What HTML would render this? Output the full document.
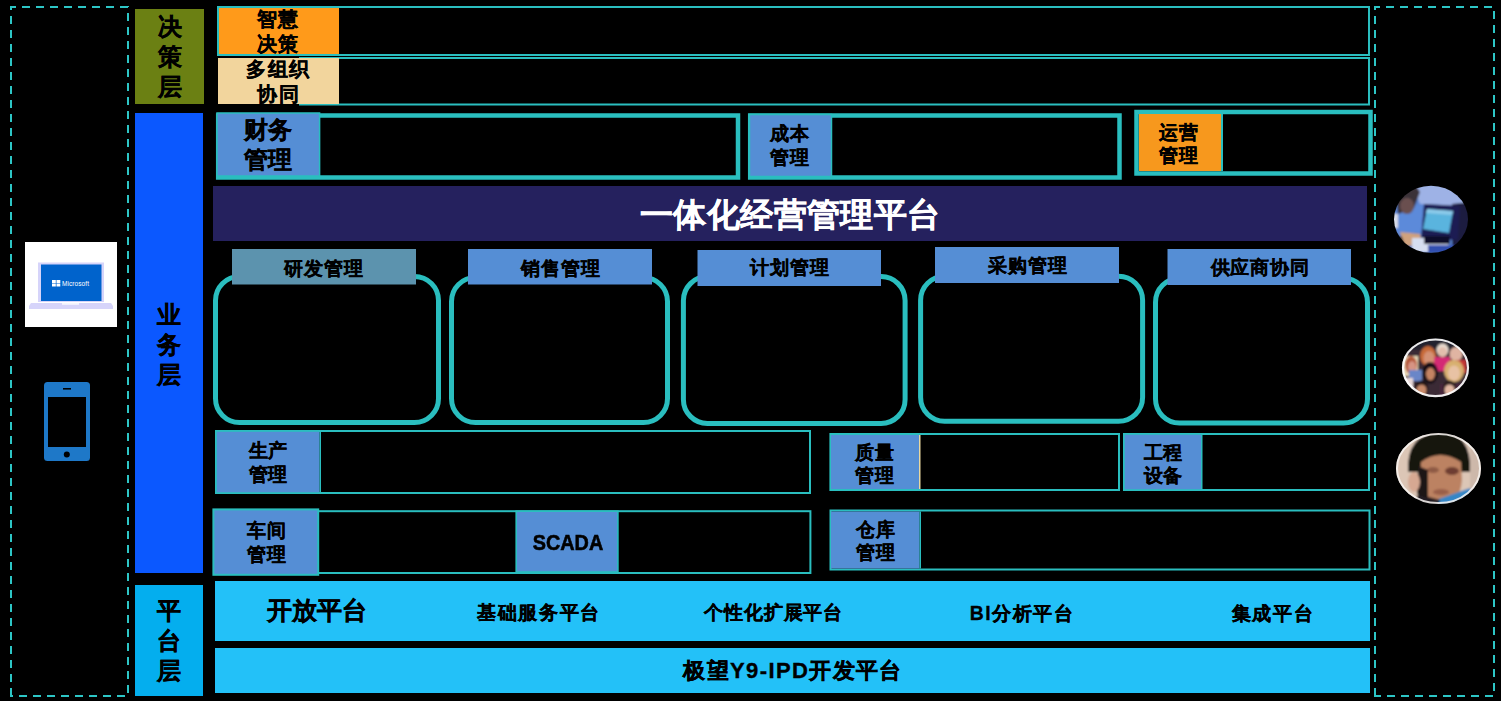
<!DOCTYPE html>
<html><head><meta charset="utf-8">
<style>
html,body{margin:0;padding:0;background:#000;width:1501px;height:701px;overflow:hidden;}
body{position:relative;font-family:"Liberation Sans",sans-serif;font-weight:bold;color:#000;}
svg{position:absolute;left:0;top:0;}
.t{position:absolute;display:flex;align-items:center;justify-content:center;text-align:center;white-space:nowrap;}
.v{flex-direction:column;}
.b{-webkit-text-stroke:0.35px currentColor;}
</style></head><body>
<svg width="1501" height="701" viewBox="0 0 1501 701">
<defs>
<filter id="bl" x="-10%" y="-10%" width="120%" height="120%"><feGaussianBlur stdDeviation="0.9"/></filter>
<clipPath id="c1"><ellipse cx="1431" cy="219.2" rx="37" ry="33.5"/></clipPath>
<clipPath id="c2"><ellipse cx="1435.5" cy="367.8" rx="33.5" ry="29.3"/></clipPath>
<clipPath id="c3"><ellipse cx="1438.5" cy="468.5" rx="42.5" ry="35.5"/></clipPath>
</defs>
<!-- dashed outer boxes -->
<path d="M10 7H16M22 7H30M36 7H44M50 7H58M64 7H72M78 7H86M92 7H100M106 7H114M120 7H128M10 696H13M19 696H27M33 696H41M47 696H55M61 696H69M75 696H83M89 696H97M103 696H111M117 696H125M11 6V10M11 16V24M11 30V38M11 44V52M11 58V66M11 72V80M11 86V94M11 100V108M11 114V122M11 128V136M11 142V150M11 156V164M11 170V178M11 184V192M11 198V206M11 212V220M11 226V234M11 240V248M11 254V262M11 268V276M11 282V290M11 296V304M11 310V318M11 324V332M11 338V346M11 352V360M11 366V374M11 380V388M11 394V402M11 408V416M11 422V430M11 436V444M11 450V458M11 464V472M11 478V486M11 492V500M11 506V514M11 520V528M11 534V542M11 548V556M11 562V570M11 576V584M11 590V598M11 604V612M11 618V626M11 632V640M11 646V654M11 660V668M11 674V682M11 688V696M128 6V7M128 13V21M128 27V35M128 41V49M128 55V63M128 69V77M128 83V91M128 97V105M128 111V119M128 125V133M128 139V147M128 153V161M128 167V175M128 181V189M128 195V203M128 209V217M128 223V231M128 237V245M128 251V259M128 265V273M128 279V287M128 293V301M128 307V315M128 321V329M128 335V343M128 349V357M128 363V371M128 377V385M128 391V399M128 405V413M128 419V427M128 433V441M128 447V455M128 461V469M128 475V483M128 489V497M128 503V511M128 517V525M128 531V539M128 545V553M128 559V567M128 573V581M128 587V595M128 601V609M128 615V623M128 629V637M128 643V651M128 657V665M128 671V679M128 685V693M1374 7H1380M1386 7H1394M1400 7H1408M1414 7H1422M1428 7H1436M1442 7H1450M1456 7H1464M1470 7H1478M1484 7H1492M1374 696H1381M1387 696H1395M1401 696H1409M1415 696H1423M1429 696H1437M1443 696H1451M1457 696H1465M1471 696H1479M1485 696H1493M1375 6V10M1375 16V24M1375 30V38M1375 44V52M1375 58V66M1375 72V80M1375 86V94M1375 100V108M1375 114V122M1375 128V136M1375 142V150M1375 156V164M1375 170V178M1375 184V192M1375 198V206M1375 212V220M1375 226V234M1375 240V248M1375 254V262M1375 268V276M1375 282V290M1375 296V304M1375 310V318M1375 324V332M1375 338V346M1375 352V360M1375 366V374M1375 380V388M1375 394V402M1375 408V416M1375 422V430M1375 436V444M1375 450V458M1375 464V472M1375 478V486M1375 492V500M1375 506V514M1375 520V528M1375 534V542M1375 548V556M1375 562V570M1375 576V584M1375 590V598M1375 604V612M1375 618V626M1375 632V640M1375 646V654M1375 660V668M1375 674V682M1375 688V696M1494 11V19M1494 25V33M1494 39V47M1494 53V61M1494 67V75M1494 81V89M1494 95V103M1494 109V117M1494 123V131M1494 137V145M1494 151V159M1494 165V173M1494 179V187M1494 193V201M1494 207V215M1494 221V229M1494 235V243M1494 249V257M1494 263V271M1494 277V285M1494 291V299M1494 305V313M1494 319V327M1494 333V341M1494 347V355M1494 361V369M1494 375V383M1494 389V397M1494 403V411M1494 417V425M1494 431V439M1494 445V453M1494 459V467M1494 473V481M1494 487V495M1494 501V509M1494 515V523M1494 529V537M1494 543V551M1494 557V565M1494 571V579M1494 585V593M1494 599V607M1494 613V621M1494 627V635M1494 641V649M1494 655V663M1494 669V677M1494 683V691" fill="none" stroke="#2DC6C6" stroke-width="2"/>
<!-- layer columns -->
<rect x="135" y="9" width="69" height="95" fill="#6B8013"/>
<rect x="135" y="113" width="68" height="460" fill="#0B58FF"/>
<rect x="135" y="585" width="68" height="111" fill="#04AEEE"/>
<!-- decision rows -->
<rect x="218" y="7" width="1151" height="48" fill="none" stroke="#2ABEBF" stroke-width="2"/>
<rect x="219" y="8" width="120" height="46" fill="#FF9A1A"/>
<rect x="300" y="58" width="1069" height="46.5" fill="none" stroke="#2ABEBF" stroke-width="2"/>
<rect x="218" y="58" width="121" height="46" fill="#F2D59D"/>
<!-- finance -->
<rect x="218.2" y="115.5" width="519.8" height="62" fill="none" stroke="#2ABEBF" stroke-width="4.5"/>
<rect x="217" y="113" width="102.6" height="63" fill="#558ED5" stroke="#2ABEBF" stroke-width="1.5"/>
<!-- cost -->
<rect x="750.2" y="115.5" width="369.3" height="62" fill="none" stroke="#2ABEBF" stroke-width="4.5"/>
<rect x="749.5" y="114.5" width="82" height="62" fill="#558ED5" stroke="#2ABEBF" stroke-width="1.5"/>
<!-- operations -->
<rect x="1136.5" y="112" width="234" height="61.5" fill="none" stroke="#2ABEBF" stroke-width="4.5"/>
<rect x="1139" y="114" width="82" height="57" fill="#F7981D"/>
<rect x="1221" y="114" width="2" height="57" fill="#2ABEBF"/>
<!-- navy bar -->
<rect x="213" y="186" width="1154" height="55" fill="#25215E"/>
<!-- rounded boxes -->
<rect x="215.5" y="276.5" width="223" height="146" rx="24" ry="24" fill="none" stroke="#2ABEBF" stroke-width="5"/>
<rect x="451.5" y="277.5" width="216" height="145" rx="24" ry="24" fill="none" stroke="#2ABEBF" stroke-width="5"/>
<rect x="683.4" y="276.6" width="221.7" height="146.8" rx="24" ry="24" fill="none" stroke="#2ABEBF" stroke-width="5"/>
<rect x="920.6" y="276.2" width="222" height="145.1" rx="24" ry="24" fill="none" stroke="#2ABEBF" stroke-width="5"/>
<rect x="1155.5" y="278.3" width="212" height="144.7" rx="24" ry="24" fill="none" stroke="#2ABEBF" stroke-width="5"/>
<!-- headers -->
<rect x="232" y="249" width="184" height="35.5" fill="#5C93AE"/>
<rect x="468" y="249" width="184" height="35.5" fill="#558ED5"/>
<rect x="697.5" y="250" width="183.5" height="36" fill="#558ED5"/>
<rect x="935" y="247" width="184" height="36" fill="#558ED5"/>
<rect x="1167.5" y="249" width="183.5" height="36" fill="#558ED5"/>
<!-- production -->
<rect x="216" y="431" width="594" height="62" fill="none" stroke="#2ABEBF" stroke-width="2"/>
<rect x="216.8" y="431.8" width="102.7" height="60.4" fill="#558ED5"/>
<rect x="319.5" y="432" width="1.5" height="60" fill="#2ABEBF"/>
<!-- quality -->
<rect x="830.4" y="434" width="288.6" height="56" fill="none" stroke="#2ABEBF" stroke-width="2"/>
<rect x="831" y="435" width="88" height="54" fill="#558ED5"/>
<rect x="919" y="435" width="1.5" height="54" fill="#E8D8A0"/>
<!-- engineering -->
<rect x="1124" y="434" width="245" height="56" fill="none" stroke="#2ABEBF" stroke-width="2"/>
<rect x="1124.8" y="434.8" width="76.2" height="54.4" fill="#558ED5"/>
<rect x="1201" y="435" width="1.5" height="54" fill="#2ABEBF"/>
<!-- workshop -->
<rect x="318" y="511.2" width="492.4" height="61.8" fill="none" stroke="#2ABEBF" stroke-width="2"/>
<rect x="213.4" y="509.4" width="104.8" height="65.4" fill="#558ED5" stroke="#2ABEBF" stroke-width="2"/>
<rect x="516.2" y="511.2" width="101.7" height="60.8" fill="#558ED5" stroke="#2ABEBF" stroke-width="1.6"/>
<!-- warehouse -->
<rect x="830.5" y="510.5" width="539" height="59" fill="none" stroke="#2ABEBF" stroke-width="2"/>
<rect x="831" y="511.5" width="88.5" height="57" fill="#558ED5"/>
<rect x="919.5" y="511.5" width="1.5" height="57" fill="#2ABEBF"/>
<!-- platform bars -->
<rect x="215" y="581" width="1155" height="60" fill="#23C1F8"/>
<rect x="215" y="648" width="1155" height="45" fill="#23C1F8"/>
<!-- laptop -->
<rect x="25" y="242" width="92" height="85" fill="#FFFFFF"/>
<rect x="38" y="262.5" width="66" height="39.5" fill="#D6D4FA"/>
<rect x="41" y="264.5" width="60.5" height="36.5" fill="#0063CC"/>
<path d="M31 303 L111 303 L113 306 L113 309 L29 309 L29 306 Z" fill="#D6D4FA"/>
<rect x="62" y="303" width="17" height="1.8" fill="#F4F4FF"/>
<rect x="52" y="280" width="3.8" height="3" fill="#fff"/><rect x="56.5" y="280" width="3.8" height="3" fill="#fff"/>
<rect x="52" y="283.5" width="3.8" height="3" fill="#fff"/><rect x="56.5" y="283.5" width="3.8" height="3" fill="#fff"/>
<text x="62" y="286" font-family="Liberation Sans" font-size="6.5" fill="#fff" font-weight="normal" textLength="27">Microsoft</text>
<!-- phone -->
<rect x="44" y="382" width="46" height="79" rx="3.5" fill="#1E78C8"/>
<rect x="48" y="397" width="38" height="50" fill="#000"/>
<rect x="63" y="388" width="8" height="1.6" fill="#000"/>
<circle cx="66.8" cy="454.5" r="3" fill="#000"/>
<!-- photos -->
<g clip-path="url(#c1)"><g filter="url(#bl)">
<rect x="1390" y="180" width="85" height="80" fill="#5A84D2"/>
<path d="M1412 184 L1470 184 L1470 206 L1420 204 Z" fill="#9EB2E6"/>
<path d="M1440 185 Q1462 190 1468 210 L1468 184 Z" fill="#E0E6FA"/>
<rect x="1397" y="205" width="26" height="27" fill="#5C8ADA"/>
<path d="M1452 204 L1470 202 L1470 250 L1452 248 Z" fill="#1A1A40"/>
<path d="M1424 204 L1460 206 L1458 240 L1421 238 Z" fill="#1C1A52"/>
<path d="M1427 209 L1453 211 L1449 233 L1423 229 Z" fill="#5AB4DE"/>
<path d="M1427 209 L1453 211 L1452 215 L1426 213 Z" fill="#8CCBEA"/>
<path d="M1396 196 Q1402 186 1416 186 L1420 192 L1414 208 L1398 214 Z" fill="#3A3038"/>
<ellipse cx="1407" cy="206" rx="7" ry="8" fill="#6A5050"/>
<rect x="1390" y="214" width="8" height="14" fill="#D8DCE8"/>
<path d="M1388 238 L1405 236 L1412 258 L1388 258 Z" fill="#000"/>
<path d="M1400 232 L1420 234 L1422 245 L1405 246 Z" fill="#D0A27E"/>
<path d="M1412 238 L1447 238 L1450 252 L1412 252 Z" fill="#D6DEF0"/>
<rect x="1424" y="236" width="26" height="8" fill="#10102A"/>
<rect x="1428" y="245" width="26" height="8" fill="#3050B0"/>
</g></g>
<g clip-path="url(#c2)"><g filter="url(#bl)">
<rect x="1400" y="336" width="72" height="64" fill="#3A2A34"/>
<rect x="1400" y="336" width="72" height="14" fill="#22222E"/>
<ellipse cx="1428" cy="356" rx="8" ry="10" fill="#C86A38"/>
<ellipse cx="1429" cy="358" rx="5.5" ry="7" fill="#D49274"/>
<ellipse cx="1442.5" cy="350" rx="6" ry="6.5" fill="#E8DCD0"/>
<ellipse cx="1442.5" cy="352" rx="4.5" ry="5" fill="#E2BEAC"/>
<rect x="1434" y="357" width="16" height="14" fill="#D42A74"/>
<ellipse cx="1456" cy="354" rx="6.5" ry="7" fill="#E0B4A2"/>
<rect x="1450" y="360" width="16" height="13" fill="#C43434"/>
<rect x="1402" y="356" width="16" height="20" fill="#E8D8B8"/>
<ellipse cx="1411" cy="365" rx="6" ry="9" fill="#B45434"/>
<ellipse cx="1412" cy="367" rx="4" ry="6" fill="#D69484"/>
<rect x="1409" y="370" width="13" height="11" fill="#6A86C8"/>
<ellipse cx="1430" cy="373" rx="8" ry="11" fill="#181018"/>
<ellipse cx="1430.5" cy="374" rx="4.5" ry="6.5" fill="#C48464"/>
<ellipse cx="1454" cy="371" rx="10" ry="11" fill="#D8B070"/>
<ellipse cx="1454" cy="373" rx="6" ry="7.5" fill="#E8C2A4"/>
<rect x="1440" y="384" width="30" height="14" fill="#48283E"/>
<ellipse cx="1421.5" cy="388" rx="6.5" ry="7.5" fill="#201414"/>
<ellipse cx="1421.5" cy="390" rx="5" ry="5.5" fill="#C88A6A"/>
<ellipse cx="1449.5" cy="388" rx="6.5" ry="7.5" fill="#2A1A1A"/>
<ellipse cx="1449.5" cy="390" rx="5" ry="5.5" fill="#E4B8A4"/>
<rect x="1403" y="378" width="10" height="20" fill="#EADADA"/>
</g></g>
<ellipse cx="1435.5" cy="367.8" rx="32.5" ry="28.3" fill="none" stroke="#FFFFFF" stroke-width="2.2" opacity="0.9"/>
<g clip-path="url(#c3)"><g filter="url(#bl)">
<rect x="1394" y="430" width="90" height="80" fill="#DCC6B6"/>
<rect x="1470" y="430" width="14" height="80" fill="#CDB8AA"/>
<path d="M1408 472 Q1406 434 1440 432 Q1472 432 1470 472 Z" fill="#161210"/>
<path d="M1421 462 Q1440 448 1461 462 L1462 480 Q1460 504 1441 504 Q1422 504 1420 480 Z" fill="#BC8262"/>
<ellipse cx="1433" cy="470" rx="6" ry="3" fill="#8E5A44"/>
<ellipse cx="1452" cy="471" rx="7" ry="4" fill="#6E3E30"/>
<ellipse cx="1441" cy="492" rx="8" ry="3" fill="#9A5E48"/>
<path d="M1436 500 L1470 488 L1476 506 L1430 506 Z" fill="#3486C6"/>
<path d="M1418 494 L1440 500 L1438 506 L1414 506 Z" fill="#221C20"/>
<path d="M1418 466 L1428 470 L1428 498 L1417 494 Z" fill="#1A1214"/>
<ellipse cx="1414" cy="482" rx="6" ry="10" fill="#D6A892"/>
</g></g>
<ellipse cx="1438.5" cy="468.5" rx="41.5" ry="34.5" fill="none" stroke="#F8F4F2" stroke-width="2" opacity="0.85"/>
</svg>

<!-- column labels -->
<div class="t v b" style="left:135px;top:9px;width:69px;height:95px;font-size:24px;line-height:30px;">决<br>策<br>层</div>
<div class="t v b" style="left:135px;top:114.5px;width:68px;height:460px;font-size:24px;line-height:30px;">业<br>务<br>层</div>
<div class="t v b" style="left:135px;top:585.5px;width:68px;height:111px;font-size:24px;line-height:30px;">平<br>台<br>层</div>

<div class="t" style="left:216.5px;top:8px;width:121px;height:48px;font-size:19.8px;letter-spacing:1.4px;padding-left:1.4px;-webkit-text-stroke:0.3px #000;line-height:25px;">智慧<br>决策</div>
<div class="t" style="left:216.5px;top:58px;width:121px;height:48px;font-size:19.8px;letter-spacing:1.6px;padding-left:1.6px;-webkit-text-stroke:0.3px #000;line-height:25px;">多组织<br>协同</div>

<div class="t b" style="left:216.5px;top:113px;width:102px;height:63px;font-size:24px;line-height:30px;">财务<br>管理</div>
<div class="t" style="left:748.7px;top:115px;width:81px;height:61px;font-size:19.2px;letter-spacing:0.8px;padding-left:0.8px;-webkit-text-stroke:0.3px #000;line-height:24px;">成本<br>管理</div>
<div class="t" style="left:1137px;top:115.5px;width:82px;height:57px;font-size:19.2px;letter-spacing:0.8px;padding-left:0.8px;-webkit-text-stroke:0.3px #000;line-height:23px;">运营<br>管理</div>

<div class="t b" style="left:213px;top:187.5px;width:1154px;height:55px;font-size:33px;letter-spacing:0.4px;padding-left:0.4px;color:#fff;">一体化经营管理平台</div>

<div class="t" style="left:231px;top:251px;width:184px;height:35px;font-size:19.2px;letter-spacing:0.8px;padding-left:0.8px;-webkit-text-stroke:0.3px #000;">研发管理</div>
<div class="t" style="left:468px;top:251.4px;width:184px;height:35px;font-size:19.2px;letter-spacing:0.8px;padding-left:0.8px;-webkit-text-stroke:0.3px #000;">销售管理</div>
<div class="t" style="left:697px;top:250.4px;width:184px;height:36px;font-size:19.2px;letter-spacing:0.8px;padding-left:0.8px;-webkit-text-stroke:0.3px #000;">计划管理</div>
<div class="t" style="left:935px;top:248px;width:184px;height:36px;font-size:19.2px;letter-spacing:0.8px;padding-left:0.8px;-webkit-text-stroke:0.3px #000;">采购管理</div>
<div class="t" style="left:1167.4px;top:250px;width:184px;height:36px;font-size:19.2px;letter-spacing:0.8px;padding-left:0.8px;-webkit-text-stroke:0.3px #000;">供应商协同</div>

<div class="t" style="left:216.7px;top:433.4px;width:102px;height:60px;font-size:19.2px;letter-spacing:0.8px;padding-left:0.8px;-webkit-text-stroke:0.3px #000;line-height:24px;">生产<br>管理</div>
<div class="t" style="left:830px;top:437px;width:88px;height:54px;font-size:19.2px;letter-spacing:0.8px;padding-left:0.8px;-webkit-text-stroke:0.3px #000;line-height:23px;">质量<br>管理</div>
<div class="t" style="left:1124.7px;top:436.5px;width:76px;height:54px;font-size:19.2px;letter-spacing:0.8px;padding-left:0.8px;-webkit-text-stroke:0.3px #000;line-height:23px;">工程<br>设备</div>
<div class="t" style="left:213.5px;top:510px;width:105px;height:66px;font-size:19.2px;letter-spacing:0.8px;padding-left:0.8px;-webkit-text-stroke:0.3px #000;line-height:24px;">车间<br>管理</div>
<div class="t" style="left:516.5px;top:512.5px;width:102px;height:61px;font-size:22px;transform:scaleX(0.9);-webkit-text-stroke:0.6px #000;">SCADA</div>
<div class="t" style="left:831px;top:512px;width:88px;height:57px;font-size:19.2px;letter-spacing:0.8px;padding-left:0.8px;-webkit-text-stroke:0.3px #000;line-height:23px;">仓库<br>管理</div>

<div class="t b" style="left:217px;top:580.5px;width:200px;height:60px;font-size:24.5px;">开放平台</div>
<div class="t" style="left:437.5px;top:583px;width:200px;height:60px;font-size:19.2px;letter-spacing:1.55px;padding-left:1.55px;-webkit-text-stroke:0.3px #000;">基础服务平台</div>
<div class="t" style="left:673px;top:583px;width:200px;height:60px;font-size:19.2px;letter-spacing:0.8px;padding-left:0.8px;-webkit-text-stroke:0.3px #000;">个性化扩展平台</div>
<div class="t" style="left:920.5px;top:583.5px;width:200px;height:60px;font-size:19.4px;letter-spacing:1.5px;padding-left:1.5px;-webkit-text-stroke:0.3px #000;">BI分析平台</div>
<div class="t" style="left:1171.5px;top:583.5px;width:200px;height:60px;font-size:19.4px;letter-spacing:1.6px;padding-left:1.6px;-webkit-text-stroke:0.3px #000;">集成平台</div>
<div class="t b" style="left:215.5px;top:648.5px;width:1155px;height:45px;font-size:22px;letter-spacing:1.4px;">极望Y9-IPD开发平台</div>
</body></html>
